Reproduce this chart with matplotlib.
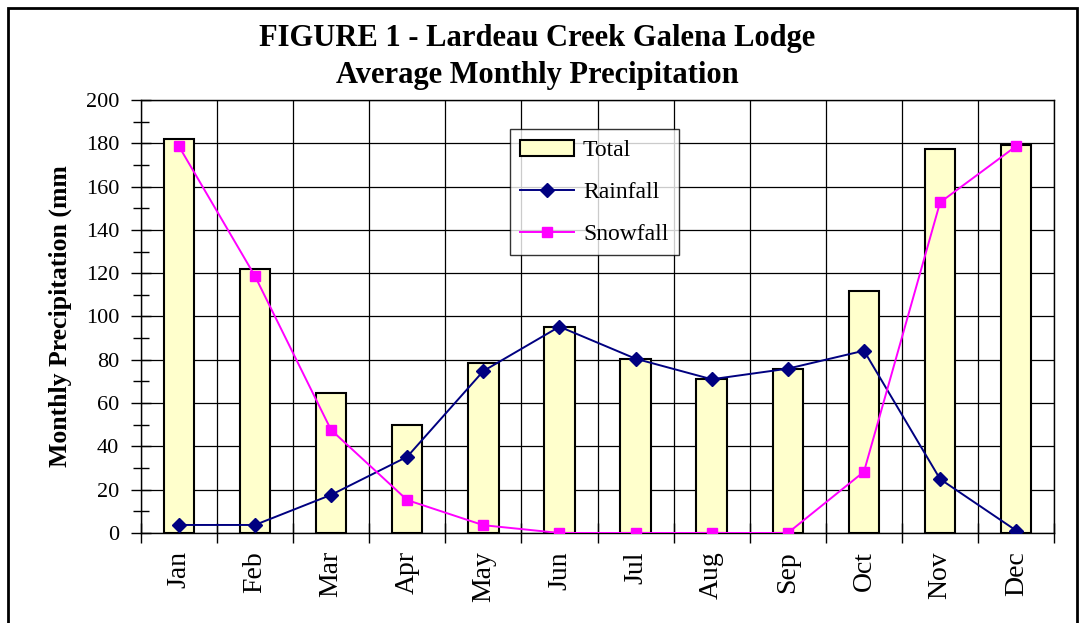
import matplotlib
matplotlib.use("Agg")
import matplotlib.pyplot as plt
from matplotlib.patches import Rectangle
from matplotlib.ticker import MultipleLocator, FixedLocator
import numpy as np

months = ["Jan", "Feb", "Mar", "Apr", "May", "Jun", "Jul", "Aug", "Sep", "Oct", "Nov", "Dec"]
total = [181.8, 121.8, 64.5, 49.9, 78.4, 95.0, 80.5, 71.2, 75.9, 111.8, 177.4, 179.2]
rainfall = [3.7, 3.7, 17.6, 35.2, 74.8, 95.3, 80.5, 71.0, 75.9, 84.2, 24.9, 1.1]
snowfall = [178.7, 118.7, 47.6, 15.2, 3.6, 0.0, 0.0, 0.0, 0.0, 28.3, 152.7, 178.7]

title_lines = ["FIGURE 1 - Lardeau Creek Galena Lodge", "Average Monthly Precipitation"]
ylabel = "Monthly Precipitation (mm"

plt.rcParams['font.family'] = ['Liberation Serif', 'DejaVu Serif']

fig = plt.figure(figsize=(10.86, 6.23), dpi=100)
ax = fig.add_axes([0.1296, 0.1445, 0.8412, 0.695])

x = np.arange(len(months))
bars = ax.bar(x, total, width=0.4, color="#FFFFCC", edgecolor="black", linewidth=1.5, label="Total", zorder=3)
l_rain, = ax.plot(x, rainfall, color="#000080", marker="D", markersize=7, linewidth=1.4, label="Rainfall", zorder=4)
l_snow, = ax.plot(x, snowfall, color="#FF00FF", marker="s", markersize=7.5, linewidth=1.4, label="Snowfall", zorder=4)

ax.set_xlim(-0.5, len(months) - 0.5)
ax.set_ylim(0, 200)
ax.yaxis.set_major_locator(MultipleLocator(20))
ax.yaxis.set_minor_locator(MultipleLocator(10))
ax.tick_params(axis='y', which='major', direction='inout', length=15, width=1, labelsize=16, pad=8)
ax.tick_params(axis='y', which='minor', direction='inout', length=11, width=1)

bounds = np.arange(-0.5, len(months), 1.0)
ax.xaxis.set_major_locator(FixedLocator(bounds))
ax.xaxis.set_minor_locator(FixedLocator(x))
ax.set_xticklabels([""] * len(bounds))
ax.set_xticklabels(months, minor=True, rotation=90, fontsize=20)
ax.tick_params(axis='x', which='major', direction='inout', length=15, width=1)
ax.tick_params(axis='x', which='minor', length=0, pad=13)

ax.grid(True, which='major', color='black', linewidth=0.9, zorder=0)
ax.set_axisbelow(True)
for s in ax.spines.values():
    s.set_color('black')
    s.set_linewidth(1)

ax.set_ylabel(ylabel, fontsize=18.5, fontweight='bold', labelpad=10)

fig.text(0.495, 0.939, title_lines[0], ha='center', va='center', fontsize=22, fontweight='bold')
fig.text(0.495, 0.879, title_lines[1], ha='center', va='center', fontsize=22, fontweight='bold')

leg = ax.legend([bars, l_rain, l_snow], ["Total", "Rainfall", "Snowfall"],
                loc='upper left', bbox_to_anchor=(0.404, 0.933), fontsize=17, frameon=True,
                fancybox=False, edgecolor='black', borderpad=0.45, labelspacing=0.86,
                handlelength=2.25, handletextpad=0.4, borderaxespad=0)
leg.get_frame().set_linewidth(1)
leg.set_zorder(5)

fig.patches.append(Rectangle((8 / 1086, -0.1), (1077 - 8) / 1086, 1.1 - 8 / 623,
                             transform=fig.transFigure, fill=False, edgecolor='black', linewidth=2))

fig.savefig("out.png", dpi=100)
